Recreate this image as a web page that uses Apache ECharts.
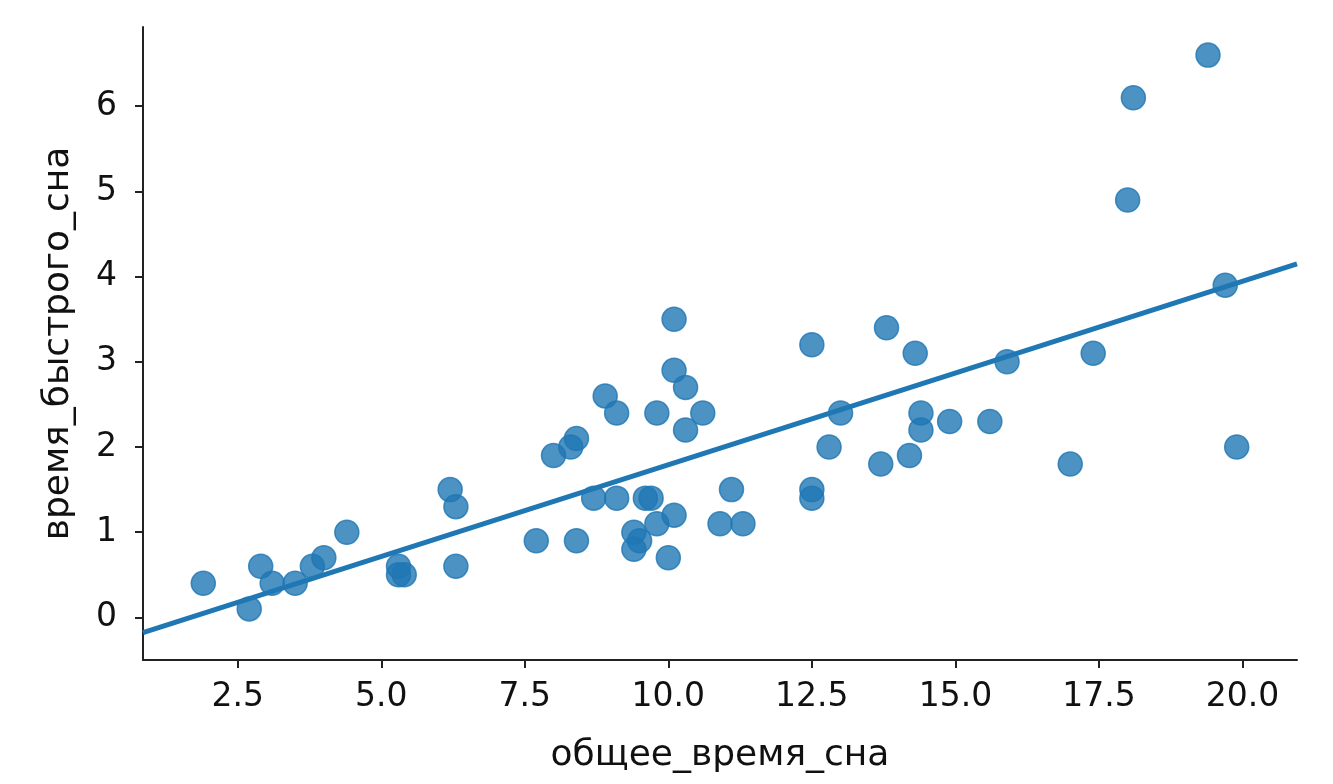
<!DOCTYPE html>
<html>
<head>
<meta charset="utf-8">
<title>общее_время_сна / время_быстрого_сна</title>
<script src="https://cdn.jsdelivr.net/npm/echarts@6/dist/echarts.min.js"></script>
<style>
  html, body { margin: 0; padding: 0; background: #fff; }
  #chart { width: 1333px; height: 784px; }
</style>
</head>
<body>
<div id="chart"></div>
<script>
// общее время сна (часы)
var sleepTotal = [
  1.9, 2.7, 2.9, 3.1, 3.5, 3.8, 4.0, 4.4, 5.3, 5.3, 5.4,
  6.2, 6.3, 6.3, 7.7, 8.0, 8.3, 8.4, 8.4, 8.7, 8.9, 9.1, 9.1,
  9.4, 9.4, 9.5, 9.6, 9.7, 9.8, 9.8, 10.0, 10.1, 10.1, 10.1,
  10.3, 10.3, 10.6, 10.9, 11.1, 11.3, 12.5, 12.5, 12.5, 12.8, 13.0,
  13.7, 13.8, 14.2, 14.3, 14.4, 14.4, 14.9, 15.6, 15.9, 17.0,
  17.4, 18.0, 18.1, 19.4, 19.7, 19.9
];
// время быстрого сна (часы)
var sleepRem = [
  0.4, 0.1, 0.6, 0.4, 0.4, 0.6, 0.7, 1.0, 0.6, 0.5, 0.5,
  1.5, 1.3, 0.6, 0.9, 1.9, 2.0, 2.1, 0.9, 1.4, 2.6, 2.4, 1.4,
  0.8, 1.0, 0.9, 1.4, 1.4, 1.1, 2.4, 0.7, 1.2, 2.9, 3.5,
  2.7, 2.2, 2.4, 1.1, 1.5, 1.1, 3.2, 1.5, 1.4, 2.0, 2.4,
  1.8, 3.4, 1.9, 3.1, 2.4, 2.2, 2.3, 2.3, 3.0, 1.8,
  3.1, 4.9, 6.1, 6.6, 3.9, 2.0
];
var xTicks = [2.5, 5.0, 7.5, 10.0, 12.5, 15.0, 17.5, 20.0];
var yTicks = [0, 1, 2, 3, 4, 5, 6];

var xMin = 0.85, xMax = 20.95;
var yMin = -0.5, yMax = 6.93;

// линия регрессии (МНК по тем же данным)
var n = sleepTotal.length, mx = 0, my = 0;
for (var i = 0; i < n; i++) { mx += sleepTotal[i]; my += sleepRem[i]; }
mx /= n; my /= n;
var sxy = 0, sxx = 0;
for (var j = 0; j < n; j++) {
  sxy += (sleepTotal[j] - mx) * (sleepRem[j] - my);
  sxx += (sleepTotal[j] - mx) * (sleepTotal[j] - mx);
}
var slope = sxy / sxx, intercept = my - slope * mx;
var fitLine = [[xMin, intercept + slope * xMin], [xMax, intercept + slope * xMax]];

var points = sleepTotal.map(function (x, k) { return [x, sleepRem[k]]; });

var chart = echarts.init(document.getElementById('chart'));
var font = 'DejaVu Sans';
chart.setOption({
  animation: false,
  grid: { left: 143, right: 36, top: 27, bottom: 124 },
  xAxis: {
    type: 'value',
    min: xMin,
    max: xMax,
    name: 'общее_время_сна',
    nameLocation: 'middle',
    nameGap: 78,
    nameTextStyle: { fontFamily: font, fontSize: 36, color: '#111' },
    axisLine: { show: true, onZero: false, lineStyle: { color: '#222', width: 2 } },
    axisTick: { show: true, inside: false, length: 8, lineStyle: { color: '#222', width: 2 }, customValues: xTicks },
    axisLabel: {
      margin: 21, fontFamily: font, fontSize: 33, color: '#111',
      customValues: xTicks,
      formatter: function (v) { return v.toFixed(1); }
    },
    splitLine: { show: false }
  },
  yAxis: {
    type: 'value',
    min: yMin,
    max: yMax,
    name: 'время_быстрого_сна',
    nameLocation: 'middle',
    nameGap: 66,
    nameRotate: 90,
    nameTextStyle: { fontFamily: font, fontSize: 36, color: '#111' },
    axisLine: { show: true, onZero: false, lineStyle: { color: '#222', width: 2 } },
    axisTick: { show: true, inside: false, length: 8, lineStyle: { color: '#222', width: 2 }, customValues: yTicks },
    axisLabel: {
      margin: 26, fontFamily: font, fontSize: 33, color: '#111',
      customValues: yTicks
    },
    splitLine: { show: false }
  },
  series: [
    {
      type: 'scatter',
      data: points,
      symbolSize: 24,
      itemStyle: { color: '#1f77b4', opacity: 0.8, borderColor: '#1f77b4', borderWidth: 1.5 },
      z: 2
    },
    {
      type: 'line',
      data: fitLine,
      showSymbol: false,
      symbol: 'none',
      clip: true,
      lineStyle: { color: '#1f77b4', width: 5 },
      z: 3
    }
  ]
});
</script>
</body>
</html>
